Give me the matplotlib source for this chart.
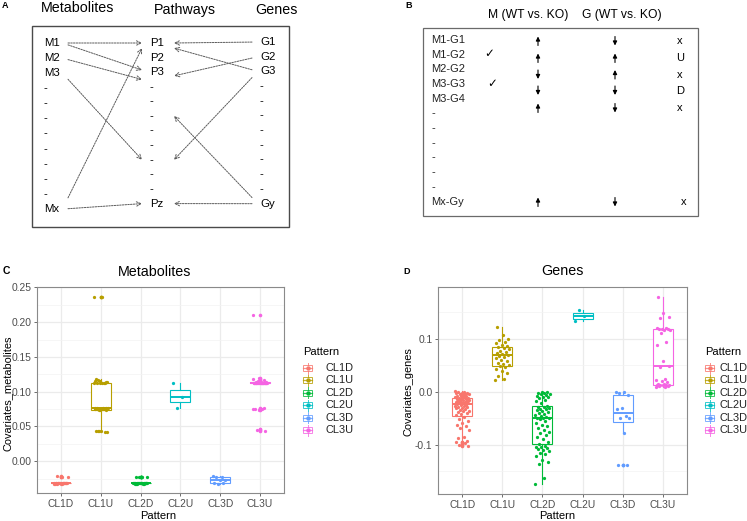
import matplotlib
matplotlib.use("Agg")
import matplotlib.pyplot as plt
import numpy as np
from matplotlib.patches import Rectangle

plt.rcParams["font.family"] = ["Liberation Sans", "DejaVu Sans"]

W, H = 747, 521

# ---------------- data ----------------
patterns = ["CL1D", "CL1U", "CL2D", "CL2U", "CL3D", "CL3U"]
pattern_colors = ["#F8766D", "#B79F00", "#00BA38", "#00BFC4", "#619CFF", "#F564E3"]

# panel A: the three columns and the links (source row -> pathway row)
metabolites = ["M1", "M2", "M3"] + ["-"] * 8 + ["Mx"]
pathways = ["P1", "P2", "P3"] + ["-"] * 8 + ["Pz"]
genes = ["G1", "G2", "G3"] + ["-"] * 8 + ["Gy"]
met_links = [(0, 0.0), (0, 1.85), (1, 2.5), (2, 8.0), (11, 0.35), (11, 11.0)]
gene_links = [(0, 0.0), (1, 2.25), (2, 0.35), (2, 8.0), (11, 5.0), (11, 11.0)]

# panel B table
pairs = ["M1-G1", "M1-G2", "M2-G2", "M3-G3", "M3-G4"] + ["-"] * 6 + ["Mx-Gy"]
checked = ["M1-G2", "M3-G3"]
shown_pairs = ["M1-G1", "M1-G2", "M2-G2", "M3-G3", "M3-G4", "Mx-Gy"]
m_change = ["up", "up", "down", "down", "up", "up"]
g_change = ["down", "up", "up", "down", "down", "down"]
pair_pattern = ["x", "U", "x", "D", "x", "x"]

# panel C: covariates of metabolites
c_cl1d = [-0.031, -0.032, -0.033, -0.032, -0.031, -0.033, -0.032, -0.032, -0.031, -0.033,
          -0.032, -0.031, -0.032, -0.033, -0.032, -0.031, -0.032, -0.033, -0.032, -0.031,
          -0.032, -0.022, -0.023, -0.021]
c_cl1u = [0.236, 0.236,
          0.113, 0.114, 0.112, 0.115, 0.113, 0.117, 0.114, 0.113, 0.118, 0.112, 0.115, 0.113,
          0.075, 0.076, 0.074, 0.075, 0.076, 0.075, 0.074, 0.076, 0.075, 0.075, 0.076, 0.074,
          0.075, 0.076,
          0.043, 0.042, 0.044, 0.043, 0.042, 0.044]
c_cl2d = [-0.032, -0.031, -0.033, -0.032, -0.032, -0.031, -0.033, -0.032, -0.031, -0.032,
          -0.033, -0.032, -0.031, -0.032, -0.033, -0.032, -0.031, -0.032, -0.033, -0.032,
          -0.022, -0.023, -0.022, -0.023]
c_cl2u = [0.112, 0.093, 0.077]
c_cl3d = [-0.021, -0.022, -0.023, -0.027, -0.027, -0.031, -0.032, -0.033]
c_cl3u = [0.210,
          0.112, 0.113, 0.112, 0.114, 0.113, 0.112, 0.116, 0.113, 0.112, 0.114,
          0.113, 0.112, 0.118, 0.113, 0.112, 0.114, 0.113, 0.112, 0.117, 0.113,
          0.112, 0.114, 0.113, 0.112, 0.119, 0.113, 0.112, 0.114, 0.113, 0.112,
          0.075, 0.076, 0.074, 0.075, 0.075,
          0.045, 0.044, 0.046]

# panel D: covariates of genes
d_cl1d = [0.001, 0.0, -0.001, -0.002, -0.002, -0.003, -0.004, -0.005, -0.005, -0.006,
          -0.007, -0.008, -0.008, -0.009, -0.010, -0.011,
          -0.012, -0.013, -0.013, -0.014, -0.015, -0.016, -0.016, -0.017, -0.018, -0.019,
          -0.019, -0.020, -0.021, -0.022, -0.022, -0.023,
          -0.024, -0.025, -0.026, -0.027, -0.028, -0.029, -0.030, -0.031, -0.033, -0.034,
          -0.036, -0.037, -0.039, -0.040, -0.042, -0.044,
          -0.047, -0.051, -0.055, -0.058, -0.063, -0.064, -0.069, -0.072, -0.086, -0.088,
          -0.092, -0.094, -0.095, -0.097, -0.100, -0.102]
d_cl1u = [0.023, 0.024, 0.030, 0.035, 0.040, 0.044, 0.046, 0.048,
          0.050, 0.052, 0.054, 0.058, 0.060, 0.063, 0.066, 0.068,
          0.070, 0.071, 0.073, 0.075, 0.077, 0.080, 0.082, 0.084,
          0.086, 0.089, 0.092, 0.094, 0.097, 0.100, 0.107, 0.122]
d_cl2d = [-0.175, -0.162, -0.137, -0.133, -0.128, -0.122, -0.118, -0.115, -0.112, -0.110,
          -0.108, -0.106, -0.105, -0.104, -0.102,
          -0.098, -0.095, -0.090, -0.086, -0.082, -0.078, -0.075, -0.072, -0.068, -0.065,
          -0.062, -0.058, -0.055, -0.052, -0.050,
          -0.050, -0.049, -0.047, -0.045, -0.043, -0.042, -0.040, -0.038, -0.037, -0.035,
          -0.033, -0.032, -0.030, -0.029, -0.028,
          -0.026, -0.022, -0.018, -0.015, -0.012, -0.010, -0.009, -0.007, -0.006, -0.005,
          -0.004, -0.003, -0.002, -0.001, 0.0]
d_cl2u = [0.133, 0.144, 0.155]
d_cl3d = [0.0, -0.001, -0.003, -0.006, -0.030, -0.033, -0.046, -0.049, -0.050, -0.0775,
          -0.1375, -0.1375]
d_cl3u = [0.009, 0.010, 0.011, 0.011, 0.012, 0.012, 0.012, 0.013,
          0.013, 0.014, 0.015, 0.018, 0.020, 0.022, 0.025, 0.047,
          0.049, 0.059, 0.088, 0.095, 0.111, 0.116, 0.117, 0.118,
          0.118, 0.119, 0.120, 0.121, 0.140, 0.141, 0.149, 0.179]

metab_values = [c_cl1d, c_cl1u, c_cl2d, c_cl2u, c_cl3d, c_cl3u]
gene_values = [d_cl1d, d_cl1u, d_cl2d, d_cl2u, d_cl3d, d_cl3u]


def px_rect(left, top, right, bottom):
    return [left / W, 1 - bottom / H, (right - left) / W, (bottom - top) / H]


fig = plt.figure(figsize=(W / 100, H / 100), dpi=100)
fig.patch.set_facecolor("white")

# overlay in pixel coordinates for the diagrams, labels and legends
ov = fig.add_axes([0, 0, 1, 1])
ov.set_xlim(0, W)
ov.set_ylim(H, 0)
ov.axis("off")

# ==========================
# Panel A
# ==========================
ov.text(5, 6, "A", fontsize=6.5, fontweight="bold", ha="center", va="center")
ov.text(78, 8, "Metabolites", fontsize=10.3, ha="center", va="center")
ov.text(185, 10, "Pathways", fontsize=10.3, ha="center", va="center")
ov.text(276, 10, "Genes", fontsize=10.3, ha="center", va="center")
ov.add_patch(Rectangle((32, 26), 257, 201, fill=False, edgecolor="#4a4a4a", lw=1.0))


def m_y(i):
    return 43 + 15.1 * i


def p_y(i):
    return 43 + 14.6 * i


def g_y(i):
    return 42 + 14.7 * i


for i, s in enumerate(metabolites):
    ov.text(44, m_y(i), s, fontsize=8.2, ha="left", va="center")
for i, s in enumerate(pathways):
    ov.text(150, p_y(i), s, fontsize=8.2, ha="left", va="center")
for i, s in enumerate(genes):
    ov.text(260, g_y(i), s, fontsize=8.2, ha="left", va="center")

arrow_kw = dict(arrowstyle="->", color="#5a5a5a", lw=0.7, linestyle=(0, (1.6, 1.2)),
                shrinkA=0, shrinkB=0, mutation_scale=8)
for src, dst in met_links:
    y0, y1 = m_y(src), p_y(dst)
    ov.annotate("", xy=(142, y1), xytext=(68, y0 + 0.07 * (y1 - y0)), arrowprops=arrow_kw)
for src, dst in gene_links:
    y0, y1 = g_y(src), p_y(dst)
    ov.annotate("", xy=(174, y1), xytext=(252, y0 + 0.07 * (y1 - y0)), arrowprops=arrow_kw)

# ==========================
# Panel B
# ==========================
ov.text(409, 6, "B", fontsize=6.5, fontweight="bold", ha="center", va="center")
ov.text(528, 15, "M (WT vs. KO)", fontsize=8.7, ha="center", va="center")
ov.text(622, 15, "G (WT vs. KO)", fontsize=8.7, ha="center", va="center")
ov.add_patch(Rectangle((423, 28), 275, 188, fill=False, edgecolor="#6a6a6a", lw=0.9))

row_y = [40 + 14.7 * i for i in range(len(pairs))]
for i, s in enumerate(pairs):
    ov.text(431, row_y[i], s, fontsize=8, ha="left", va="center", color="#222222")
    if s in checked:
        ov.text(489 + 3 * checked.index(s), row_y[i] - 1, "\u2713", fontsize=8.5,
                ha="center", va="center", family=["DejaVu Sans"])

change_y = [41, 58, 74.5, 90.5, 108, 202]
for i, name in enumerate(shown_pairs):
    y = change_y[i]
    for x, d in ((538, m_change[i]), (615, g_change[i])):
        tip, tail = (y - 4.5, y + 4.5) if d == "up" else (y + 4.5, y - 4.5)
        ov.annotate("", xy=(x, tip), xytext=(x, tail),
                    arrowprops=dict(arrowstyle="-|>", color="black", lw=0.8,
                                    mutation_scale=6, shrinkA=0, shrinkB=0))
    ov.text(684 if name == "Mx-Gy" else 680, y, pair_pattern[i], fontsize=8,
            ha="center", va="center")


# ==========================
# Panels C and D
# ==========================
def box_panel(ax, values, ylim, yticks, ytick_labels, yminor):
    pos = np.arange(1, len(patterns) + 1)
    for i, (vals, col) in enumerate(zip(values, pattern_colors)):
        ax.boxplot(vals, positions=[pos[i]], widths=0.5, patch_artist=True,
                   showcaps=False, zorder=2,
                   boxprops=dict(facecolor="white", edgecolor=col, lw=0.8),
                   whiskerprops=dict(color=col, lw=0.8),
                   medianprops=dict(color=col, lw=1.4),
                   flierprops=dict(marker="o", markerfacecolor=col,
                                   markeredgecolor="none", markersize=2.6))
        n = len(vals)
        jit = ((np.arange(n) * 0.618034) % 1 - 0.5) * 0.36
        ax.scatter(pos[i] + jit, vals, s=5.5, color=col, lw=0, zorder=3)

    ax.set_xlim(0.4, 6.6)
    ax.set_ylim(*ylim)
    ax.set_xticks(pos)
    ax.set_xticklabels(patterns)
    ax.set_yticks(yticks)
    ax.set_yticklabels(ytick_labels)
    ax.set_yticks(yminor, minor=True)
    ax.set_axisbelow(True)
    ax.grid(True, which="major", color="#EBEBEB", lw=0.9)
    ax.grid(True, which="minor", axis="y", color="#F3F3F3", lw=0.5)
    for sp in ax.spines.values():
        sp.set_color("#8a8a8a")
        sp.set_linewidth(0.8)
    ax.tick_params(which="major", length=2.5, width=0.6, color="#555555",
                   labelsize=7.4, labelcolor="#4d4d4d", pad=1.5)
    ax.tick_params(which="minor", length=0)


def legend(x_key, x_text, y_title):
    ov.text(x_key, y_title, "Pattern", fontsize=8, ha="left", va="center")
    for i, (name, col) in enumerate(zip(patterns, pattern_colors)):
        y = y_title + 16 + 12.4 * i
        ov.add_patch(Rectangle((x_key, y - 3), 9, 6, facecolor="white", edgecolor=col,
                               lw=0.7, alpha=0.8))
        ov.plot([x_key + 4.5, x_key + 4.5], [y - 5.5, y - 3], color=col, lw=0.7, alpha=0.8)
        ov.plot([x_key + 4.5, x_key + 4.5], [y + 3, y + 5.5], color=col, lw=0.7, alpha=0.8)
        ov.plot([x_key, x_key + 9], [y, y], color=col, lw=0.9, alpha=0.8)
        ov.plot([x_key + 4.5], [y], "o", color=col, ms=2.2)
        ov.text(x_text, y, name, fontsize=7.9, ha="left", va="center", color="#222222")


axc = fig.add_axes(px_rect(37, 287, 284, 493))
box_panel(axc, metab_values, (-0.0457, 0.2505),
          [0.0, 0.05, 0.10, 0.15, 0.20, 0.25],
          ["0.00", "0.05", "0.10", "0.15", "0.20", "0.25"],
          [-0.025, 0.025, 0.075, 0.125, 0.175, 0.225])
ov.text(6, 271, "C", fontsize=7.5, fontweight="bold", ha="center", va="center")
ov.text(155, 272, "Metabolites", fontsize=10.3, ha="center", va="center")
ov.text(158, 516, "Pattern", fontsize=8, ha="center", va="center")
ov.text(8, 393, "Covariates_metabolites", fontsize=7.9, ha="center", va="center",
        rotation=90)
legend(303, 325, 352)

axd = fig.add_axes(px_rect(438, 287, 687, 494))
box_panel(axd, gene_values, (-0.193, 0.198),
          [-0.1, 0.0, 0.1], ["-0.1", "0.0", "0.1"],
          [-0.15, -0.05, 0.05, 0.15])
ov.text(407, 271, "D", fontsize=6.5, fontweight="bold", ha="center", va="center")
ov.text(562, 271, "Genes", fontsize=10.3, ha="center", va="center")
ov.text(557, 516, "Pattern", fontsize=8, ha="center", va="center")
ov.text(409, 392, "Covariates_genes", fontsize=7.9, ha="center", va="center", rotation=90)
legend(705, 719, 352)

fig.savefig("out.png", dpi=100)
